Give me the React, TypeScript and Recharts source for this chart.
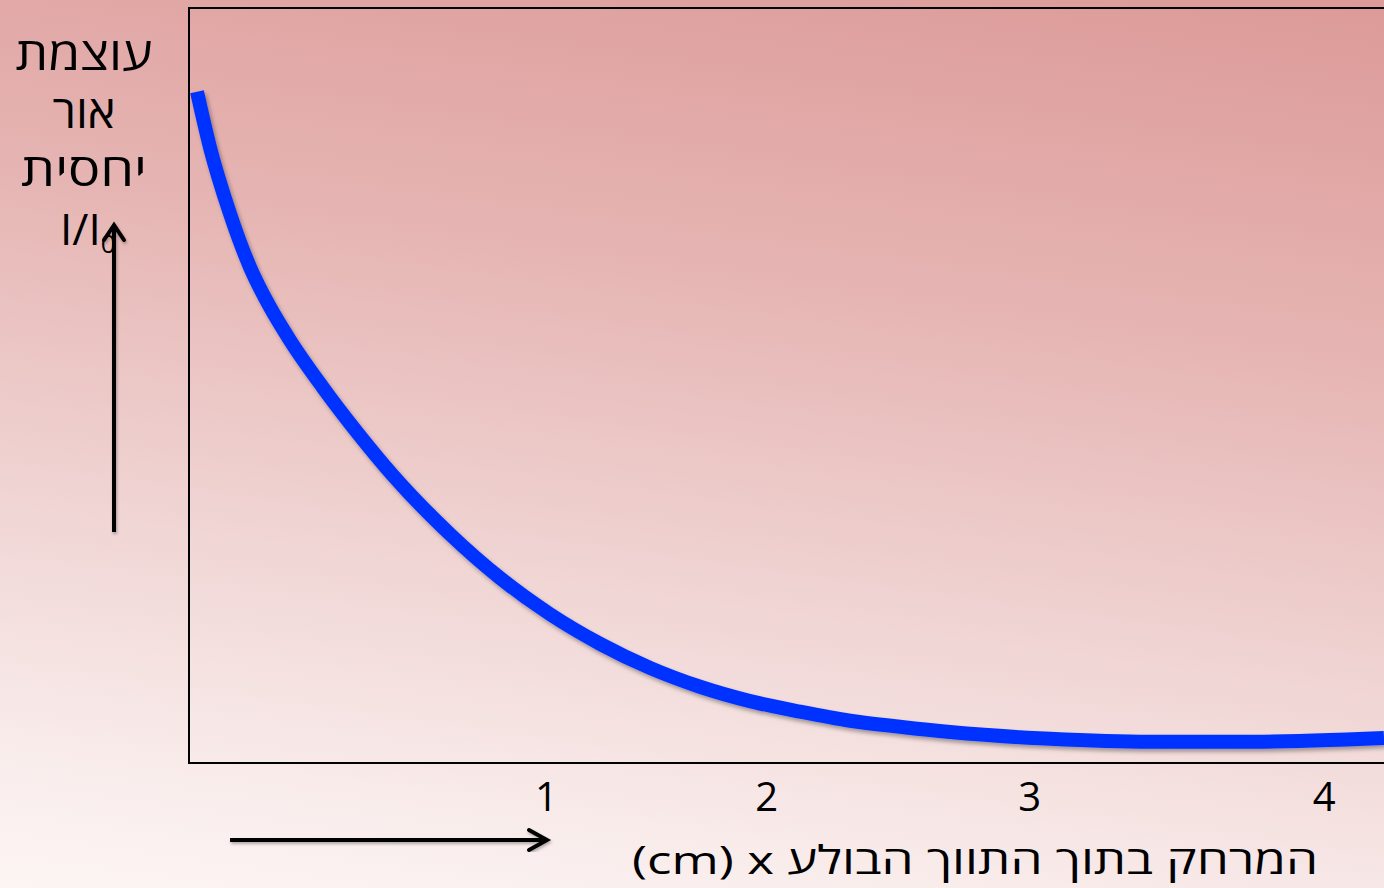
import { ComposedChart, Line, XAxis, YAxis, ReferenceArea } from 'recharts';

// x in cm (axis units), relative intensity I/I0
const distance = [
  0.028, 0.073, 0.143, 0.213, 0.283, 0.353, 0.469, 0.588, 0.713, 0.913, 1.088, 1.263,
  1.437, 1.612, 1.787, 1.962, 2.137, 2.312, 2.486, 2.661, 3.011, 3.361, 3.71, 4.179,
];
const intensity = [
  0.889, 0.816, 0.728, 0.657, 0.604, 0.56, 0.497, 0.438, 0.381, 0.303, 0.245, 0.197,
  0.158, 0.126, 0.101, 0.082, 0.068, 0.056, 0.048, 0.041, 0.032, 0.028, 0.028, 0.033,
];

// tick labels sit a bit off the even grid in the original slide
const xTickValues = [1.25, 2.02, 2.94, 3.97];
const xTickLabels = ['1', '2', '3', '4'];

const yTitleLines = ['עוצמת', 'אור', 'יחסית'];
const yTitleWidths = [137, 63, 126];
const xTitle = '(cm) x  המרחק בתוך התווך הבולע';

const data = distance.map((x, i) => ({ x, intensity: intensity[i] }));

const FONT = "'Open Sans', 'DejaVu Sans', sans-serif";

function XTitle(props: any) {
  const vx = props.viewBox?.x ?? 189;
  const vy = props.viewBox?.y ?? 763;
  return (
    <g fontFamily={FONT}>
      <text
        x={vx + 786}
        y={vy + 111}
        textAnchor="middle"
        fontSize={39}
        fill="#000"
        textLength={686}
        lengthAdjust="spacingAndGlyphs"
      >
        {xTitle}
      </text>
      <g stroke="#000" strokeWidth={4} fill="none" filter="url(#softShadow)">
        <line x1={vx + 41} y1={vy + 77} x2={vx + 357} y2={vy + 77} />
        <polyline points={`${vx + 340},${vy + 67} ${vx + 358},${vy + 77} ${vx + 340},${vy + 87}`} strokeLinecap="round" />
      </g>
    </g>
  );
}

// stacked Hebrew y title with the up arrow, left of the frame
function YTitle() {
  const cx = 84;
  const ax = 114;
  return (
    <svg width={189} height={888} style={{ position: 'absolute', left: 0, top: 0 }}>
      <defs>
        <filter id="softShadowY" x="-50%" y="-10%" width="200%" height="120%">
          <feDropShadow dx={1} dy={2} stdDeviation={1.5} floodColor="#000" floodOpacity={0.3} />
        </filter>
      </defs>
      <g fontFamily={FONT} fill="#000">
        {yTitleLines.map((t, i) => (
          <text
            key={t}
            x={cx}
            y={70 + i * 58}
            textAnchor="middle"
            fontSize={46}
            textLength={yTitleWidths[i]}
            lengthAdjust="spacingAndGlyphs"
          >
            {t}
          </text>
        ))}
        <text x={60} y={245} fontSize={44}>
          I/I<tspan fontSize={26} dy={8}>0</tspan>
        </text>
      </g>
      <g stroke="#000" strokeWidth={4} fill="none" filter="url(#softShadowY)">
        <line x1={ax} y1={532} x2={ax} y2={226} />
        <polyline points={`${ax - 10},${240} ${ax},${225} ${ax + 10},${240}`} strokeLinecap="round" />
      </g>
    </svg>
  );
}

export default function App() {
  return (
    <div
      style={{
        position: 'fixed',
        left: 0,
        top: 0,
        width: 1384,
        height: 888,
        overflow: 'hidden',
        background: 'linear-gradient(188deg, #dc9a98 0%, #e6b6b4 35%, #f0d6d5 65%, #f9edec 88%, #fcf5f4 100%)',
      }}
    >
      <ComposedChart width={1400} height={888} data={data} margin={{ top: 8, right: 10, bottom: 0, left: 189 }}>
        <defs>
          <filter id="lineShadow" x="-10%" y="-10%" width="120%" height="120%">
            <feDropShadow dx={2} dy={3} stdDeviation={2} floodColor="#000" floodOpacity={0.35} />
          </filter>
          <filter id="softShadow" x="-10%" y="-10%" width="120%" height="120%">
            <feDropShadow dx={1} dy={2} stdDeviation={1.5} floodColor="#000" floodOpacity={0.3} />
          </filter>
        </defs>
        <XAxis
          dataKey="x"
          type="number"
          domain={[0, 4.2]}
          ticks={xTickValues}
          tickFormatter={(_v: number, i: number) => xTickLabels[i]}
          tickLine={false}
          tickMargin={14}
          axisLine={{ stroke: '#000', strokeWidth: 2 }}
          tick={{ fill: '#000', fontSize: 40, fontFamily: FONT }}
          height={125}
          label={<XTitle />}
        />
        <YAxis type="number" domain={[0, 1]} width={0} tick={false} tickLine={false} axisLine={{ stroke: '#000', strokeWidth: 2 }} />
        <ReferenceArea x1={0} x2={4.2} y1={0} y2={1} fill="none" stroke="#000" strokeWidth={2} ifOverflow="visible" />
        <Line
          dataKey="intensity"
          type="monotone"
          stroke="#0033ff"
          strokeWidth={14}
          dot={false}
          activeDot={false}
          filter="url(#lineShadow)"
          isAnimationActive={false}
        />
      </ComposedChart>
      <YTitle />
    </div>
  );
}
